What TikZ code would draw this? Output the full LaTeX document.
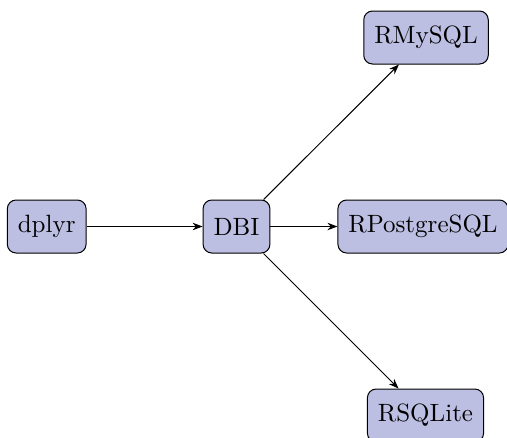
\documentclass[tikz,border=0pt]{standalone}
\usetikzlibrary{arrows.meta,positioning}
\definecolor{pkgfill}{RGB}{188,190,226}

\begin{document}
\begin{tikzpicture}[
  pkg/.style={draw, rounded corners=3.5pt, fill=pkgfill, inner xsep=4.2pt,
    minimum height=21.2pt, align=center},
  arrow/.style={-{Stealth[length=4pt]}}
]
\clip (-94.6pt,-84.2pt) rectangle (108.2pt,90.6pt);
\node[pkg] (dbi) at (0,0) {DBI};
\node[pkg, left=46.4pt of dbi] (dplyr) {dplyr};
\node[pkg, right=26.8pt of dbi] (pg) {RPostgreSQL};
\node[pkg] (mysql) at (75.8pt,75.6pt) {RMySQL};
\node[pkg] (sqlite) at (75.6pt,-75.6pt) {RSQLite};
\draw[arrow] (dplyr) -- (dbi);
\draw[arrow] (dbi) -- (mysql);
\draw[arrow] (dbi) -- (pg);
\draw[arrow] (dbi) -- (sqlite);
\end{tikzpicture}
\end{document}
